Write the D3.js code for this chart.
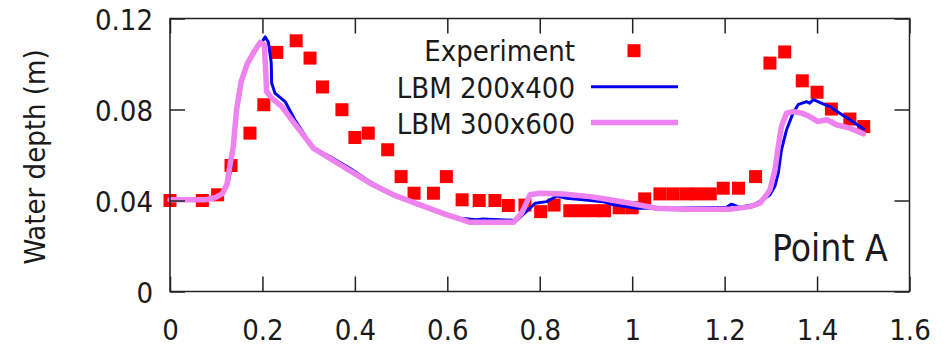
<!DOCTYPE html>
<html>
<head>
<meta charset="utf-8">
<script src="https://cdn.jsdelivr.net/npm/d3@7"></script>
<style>
  html, body { margin: 0; padding: 0; background: #fff; }
  svg { display: block; }
  text { font-family: "DejaVu Sans Condensed", "DejaVu Sans", sans-serif; font-stretch: condensed; fill: #1a1a1a; }
</style>
</head>
<body>
<svg id="chart" width="949" height="346"></svg>
<script>
// ---- data ----
const xTicks = [0, 0.2, 0.4, 0.6, 0.8, 1, 1.2, 1.4, 1.6];
const xTickLabels = ["0", "0.2", "0.4", "0.6", "0.8", "1", "1.2", "1.4", "1.6"];
const yTicks = [0, 0.04, 0.08, 0.12];
const yTickLabels = ["0", "0.04", "0.08", "0.12"];
const seriesNames = ["Experiment", "LBM 200x400", "LBM 300x600"];
const yLabel = "Water depth (m)";
const panelLabel = "Point A";

const expX = [0, 0.07, 0.103, 0.132, 0.173, 0.203, 0.231, 0.273, 0.303, 0.330, 0.372, 0.400, 0.429, 0.471, 0.500, 0.528, 0.570, 0.598, 0.632, 0.669, 0.703, 0.732, 0.768, 0.802, 0.831, 0.865, 0.892, 0.918, 0.940, 0.972, 1.000, 1.027, 1.060, 1.088, 1.116, 1.142, 1.169, 1.197, 1.230, 1.267, 1.298, 1.330, 1.368, 1.400, 1.431, 1.471, 1.501];
const expY = [0.0400, 0.0400, 0.0425, 0.0554, 0.0696, 0.0821, 0.1051, 0.1102, 0.1026, 0.0899, 0.0799, 0.0677, 0.0696, 0.0623, 0.0505, 0.0432, 0.0432, 0.0505, 0.0403, 0.0400, 0.0400, 0.0378, 0.0380, 0.0351, 0.0380, 0.0355, 0.0355, 0.0355, 0.0355, 0.0368, 0.0368, 0.0407, 0.0429, 0.0429, 0.0429, 0.0429, 0.0429, 0.0454, 0.0454, 0.0505, 0.1004, 0.1053, 0.0926, 0.0876, 0.0802, 0.0758, 0.0725];

const lbm200X = [0, 0.076, 0.097, 0.113, 0.126, 0.134, 0.141, 0.148, 0.159, 0.173, 0.188, 0.198, 0.206, 0.213, 0.219, 0.220, 0.227, 0.249, 0.270, 0.310, 0.346, 0.389, 0.426, 0.476, 0.534, 0.584, 0.627, 0.663, 0.677, 0.750, 0.775, 0.790, 0.815, 0.837, 0.858, 0.894, 0.937, 0.959, 1.010, 1.082, 1.204, 1.215, 1.233, 1.262, 1.283, 1.298, 1.309, 1.316, 1.323, 1.334, 1.348, 1.359, 1.377, 1.384, 1.392, 1.413, 1.428, 1.449, 1.471, 1.503];
const lbm200Y = [0.0403, 0.0403, 0.0412, 0.0425, 0.0478, 0.0566, 0.0711, 0.0857, 0.0962, 0.1019, 0.1072, 0.1094, 0.1119, 0.1094, 0.1006, 0.0916, 0.0872, 0.0835, 0.0755, 0.0630, 0.0593, 0.0542, 0.0491, 0.0432, 0.0381, 0.0351, 0.0322, 0.0315, 0.0319, 0.0312, 0.0359, 0.0388, 0.0395, 0.0420, 0.0410, 0.0403, 0.0395, 0.0381, 0.0366, 0.0366, 0.0370, 0.0384, 0.0370, 0.0381, 0.0403, 0.0425, 0.0464, 0.0520, 0.0623, 0.0711, 0.0784, 0.0821, 0.0835, 0.0828, 0.0843, 0.0825, 0.0813, 0.0784, 0.0755, 0.0711];

const lbm300X = [0, 0.076, 0.097, 0.113, 0.123, 0.130, 0.137, 0.144, 0.154, 0.167, 0.182, 0.195, 0.204, 0.207, 0.209, 0.220, 0.242, 0.263, 0.310, 0.375, 0.433, 0.483, 0.541, 0.599, 0.627, 0.649, 0.743, 0.761, 0.779, 0.800, 0.851, 0.909, 0.952, 0.995, 1.053, 1.110, 1.211, 1.255, 1.276, 1.289, 1.298, 1.309, 1.316, 1.323, 1.334, 1.348, 1.367, 1.384, 1.402, 1.421, 1.442, 1.471, 1.500];
const lbm300Y = [0.0403, 0.0403, 0.0412, 0.0429, 0.0469, 0.0557, 0.0637, 0.0799, 0.0922, 0.1001, 0.1054, 0.1095, 0.1085, 0.0975, 0.0879, 0.0850, 0.0813, 0.0755, 0.0630, 0.0549, 0.0476, 0.0425, 0.0381, 0.0337, 0.0319, 0.0304, 0.0304, 0.0344, 0.0425, 0.0432, 0.0429, 0.0417, 0.0403, 0.0388, 0.0366, 0.0362, 0.0361, 0.0373, 0.0388, 0.0420, 0.0447, 0.0535, 0.0637, 0.0725, 0.0784, 0.0791, 0.0784, 0.0769, 0.0747, 0.0755, 0.0733, 0.0718, 0.0693];

// ---- layout ----
const svg = d3.select("#chart");
const L = 170, R = 909.5, T = 18.5, B = 291.5;
const x = d3.scaleLinear().domain([0, 1.6]).range([L, R]);
const y = d3.scaleLinear().domain([0, 0.12]).range([B, T]);
const tickLen = 15;
const frameColor = "#222";

// ---- series ----
const expData = expX.map((v, i) => [v, expY[i]]);
const d200 = lbm200X.map((v, i) => [v, lbm200Y[i]]);
const d300 = lbm300X.map((v, i) => [v, lbm300Y[i]]);
const line = d3.line().x(d => x(d[0])).y(d => y(d[1]));
const sq = 13;

svg.append("g").selectAll("rect").data(expData).join("rect")
  .attr("x", d => x(d[0]) - sq / 2).attr("y", d => y(d[1]) - sq / 2)
  .attr("width", sq).attr("height", sq).attr("fill", "#ff0000");

svg.append("path").datum(d200).attr("d", line)
  .attr("fill", "none").attr("stroke", "#0000ee").attr("stroke-width", 3)
  .attr("stroke-linejoin", "round");
svg.append("path").datum(d300).attr("d", line)
  .attr("fill", "none").attr("stroke", "#ee82ee").attr("stroke-width", 5.5)
  .attr("stroke-linejoin", "round").attr("stroke-linecap", "round");

// ---- axes (frame with inward ticks on all sides) ----
const axB = d3.axisBottom(x).tickValues(xTicks).tickSizeInner(-tickLen).tickSizeOuter(0).tickFormat((d, i) => xTickLabels[i]);
const axT = d3.axisTop(x).tickValues(xTicks).tickSizeInner(-tickLen).tickSizeOuter(0).tickFormat("");
const axL = d3.axisLeft(y).tickValues(yTicks).tickSizeInner(-tickLen).tickSizeOuter(0).tickFormat((d, i) => yTickLabels[i]);
const axR = d3.axisRight(y).tickValues(yTicks).tickSizeInner(-tickLen).tickSizeOuter(0).tickFormat("");

function styleAxis(g) {
  g.select(".domain").remove();
  g.selectAll(".tick line").attr("stroke", frameColor).attr("stroke-width", 1.5);
  g.selectAll(".tick text").attr("font-size", 29).attr("fill", "#1a1a1a")
    .style("font-family", '"DejaVu Sans Condensed", "DejaVu Sans", sans-serif');
}
const gB = svg.append("g").attr("transform", `translate(0,${B})`).call(axB).call(styleAxis);
gB.selectAll(".tick text").attr("y", 48).attr("dy", 0);
svg.append("g").attr("transform", `translate(0,${T})`).call(axT).call(styleAxis);
const gL = svg.append("g").attr("transform", `translate(${L},0)`).call(axL).call(styleAxis);
gL.selectAll(".tick text").attr("x", -17).attr("dy", 11);
svg.append("g").attr("transform", `translate(${R},0)`).call(axR).call(styleAxis);

svg.append("rect").attr("x", L).attr("y", T).attr("width", R - L).attr("height", B - T)
  .attr("fill", "none").attr("stroke", frameColor).attr("stroke-width", 1.5);

// ---- labels ----
svg.append("text").attr("transform", "translate(45,157) rotate(-90)")
  .attr("text-anchor", "middle").attr("font-size", 29).text(yLabel);
svg.append("text").attr("x", 772).attr("y", 261).attr("font-size", 37).text(panelLabel);

// ---- legend ----
const legX = 575, legRows = [61, 97.5, 134];
const leg = svg.append("g");
seriesNames.forEach((n, i) => {
  leg.append("text").attr("x", legX).attr("y", legRows[i]).attr("text-anchor", "end")
    .attr("font-size", 29).text(n);
});
leg.append("rect").attr("x", 634 - sq / 2).attr("y", 50.7 - sq / 2).attr("width", sq).attr("height", sq).attr("fill", "#ff0000");
leg.append("line").attr("x1", 591).attr("x2", 678).attr("y1", 86.7).attr("y2", 86.7)
  .attr("stroke", "#0000ee").attr("stroke-width", 3);
leg.append("line").attr("x1", 591).attr("x2", 678).attr("y1", 122.5).attr("y2", 122.5)
  .attr("stroke", "#ee82ee").attr("stroke-width", 5.5);
</script>
</body>
</html>
